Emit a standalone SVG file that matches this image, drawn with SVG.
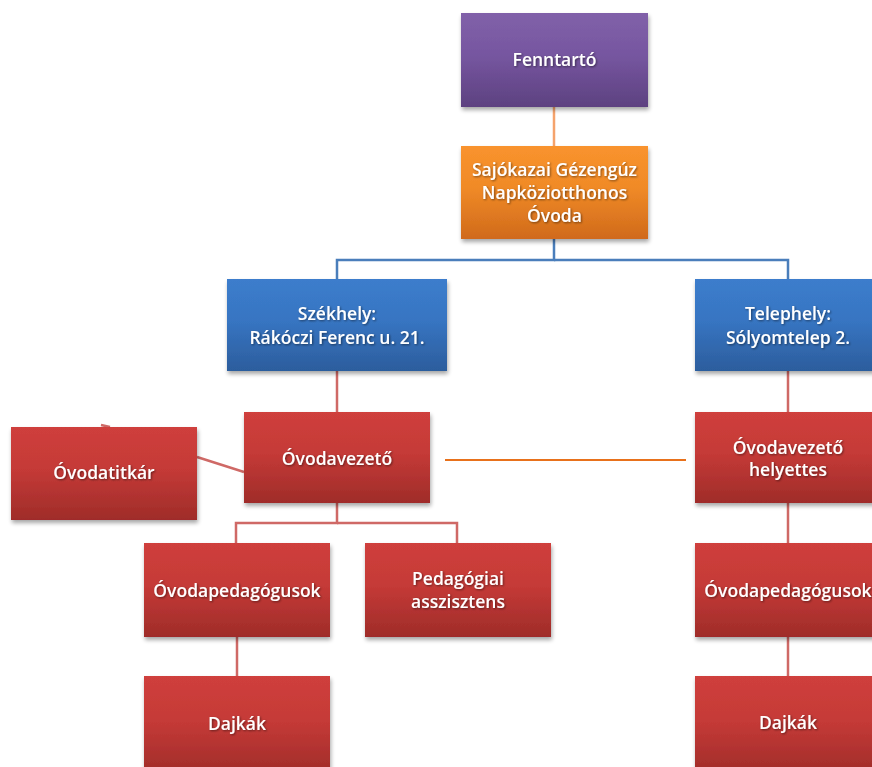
<svg xmlns="http://www.w3.org/2000/svg" width="872" height="767" viewBox="0 0 872 767">
<defs>
<linearGradient id="gPurple" x1="0" y1="0" x2="0" y2="1"><stop offset="0" stop-color="#8161a9"/><stop offset="0.45" stop-color="#7656a0"/><stop offset="1" stop-color="#5d4180"/></linearGradient>
<linearGradient id="gOrange" x1="0" y1="0" x2="0" y2="1"><stop offset="0" stop-color="#f9932e"/><stop offset="0.45" stop-color="#f08a27"/><stop offset="1" stop-color="#d06a1b"/></linearGradient>
<linearGradient id="gBlue" x1="0" y1="0" x2="0" y2="1"><stop offset="0" stop-color="#3c7dcc"/><stop offset="0.45" stop-color="#3775c2"/><stop offset="1" stop-color="#2c5d9d"/></linearGradient>
<linearGradient id="gRed" x1="0" y1="0" x2="0" y2="1"><stop offset="0" stop-color="#cf3f3c"/><stop offset="0.45" stop-color="#c53a37"/><stop offset="1" stop-color="#9f2c29"/></linearGradient>
<filter id="sh" x="-10%" y="-10%" width="125%" height="130%"><feGaussianBlur in="SourceAlpha" stdDeviation="2"/><feOffset dx="1" dy="3"/><feComponentTransfer><feFuncA type="linear" slope="0.35"/></feComponentTransfer><feMerge><feMergeNode/><feMergeNode in="SourceGraphic"/></feMerge></filter>
<filter id="tsh" x="-5%" y="-20%" width="110%" height="150%"><feGaussianBlur in="SourceAlpha" stdDeviation="0.8"/><feOffset dx="0.5" dy="1"/><feComponentTransfer><feFuncA type="linear" slope="0.5"/></feComponentTransfer><feMerge><feMergeNode/><feMergeNode in="SourceGraphic"/></feMerge></filter>
</defs>
<style>
text{font-family:"Open Sans","Liberation Sans",sans-serif;font-size:17.5px;font-weight:600;fill:#ffffff;text-anchor:middle;dominant-baseline:central;filter:url(#tsh)}
.c{fill:none;stroke-width:2.5}
.cb{stroke:#4a7ebb}
.cr{stroke:#cf6966}
.co{stroke:#f5a36c}
</style>
<g id="connectors">
<line class="c co" x1="554" y1="107" x2="554" y2="146"/>
<polyline class="c cb" points="554,239 554,260 337,260 337,279"/>
<polyline class="c cb" points="554,260 788,260 788,279"/>
<line class="c cr" x1="337" y1="371" x2="337" y2="412"/>
<line class="c cr" x1="788" y1="371" x2="788" y2="412"/>
<line class="c cr" x1="197" y1="457" x2="244" y2="472"/>
<line class="c cr" x1="101" y1="425" x2="110" y2="427"/>
<polyline class="c cr" points="337,503 337,523 236,523 236,543"/>
<polyline class="c cr" points="337,523 457,523 457,543"/>
<line class="c cr" x1="237" y1="637" x2="237" y2="676"/>
<line class="c cr" x1="788" y1="503" x2="788" y2="543"/>
<line class="c cr" x1="788" y1="637" x2="788" y2="676"/>
<line x1="445" y1="460" x2="686" y2="460" stroke="#e8711b" stroke-width="2"/>
<rect x="420" y="459" width="2" height="2" fill="#000"/>
</g>
<g id="fenntarto"><rect x="461" y="13" width="187" height="94" fill="url(#gPurple)" filter="url(#sh)"/><text x="554.5" y="59">Fenntartó</text></g>
<g id="ovoda"><rect x="461" y="146" width="187" height="93" fill="url(#gOrange)" filter="url(#sh)"/><text x="554.5" y="169">Sajókazai Gézengúz</text><text x="554.5" y="192">Napköziotthonos</text><text x="554.5" y="215">Óvoda</text></g>
<g id="szekhely"><rect x="227" y="279" width="220" height="92" fill="url(#gBlue)" filter="url(#sh)"/><text x="337" y="313">Székhely:</text><text x="337" y="337">Rákóczi Ferenc u. 21.</text></g>
<g id="telephely"><rect x="695" y="279" width="187" height="92" fill="url(#gBlue)" filter="url(#sh)"/><text x="788" y="313">Telephely:</text><text x="788" y="337">Sólyomtelep 2.</text></g>
<g id="ovodavezeto"><rect x="244" y="412" width="186" height="91" fill="url(#gRed)" filter="url(#sh)"/><text x="337" y="458">Óvodavezető</text></g>
<g id="ovodatitkar"><rect x="11" y="427" width="186" height="93" fill="url(#gRed)" filter="url(#sh)"/><text x="104" y="472">Óvodatitkár</text></g>
<g id="helyettes"><rect x="695" y="412" width="187" height="91" fill="url(#gRed)" filter="url(#sh)"/><text x="788" y="447">Óvodavezető</text><text x="788" y="469">helyettes</text></g>
<g id="pedagogusok1"><rect x="144" y="543" width="186" height="94" fill="url(#gRed)" filter="url(#sh)"/><text x="237" y="590">Óvodapedagógusok</text></g>
<g id="asszisztens"><rect x="365" y="543" width="186" height="94" fill="url(#gRed)" filter="url(#sh)"/><text x="458" y="578">Pedagógiai</text><text x="458" y="601">asszisztens</text></g>
<g id="dajkak1"><rect x="144" y="676" width="186" height="100" fill="url(#gRed)" filter="url(#sh)"/><text x="237" y="723">Dajkák</text></g>
<g id="pedagogusok2"><rect x="695" y="543" width="187" height="94" fill="url(#gRed)" filter="url(#sh)"/><text x="788" y="590">Óvodapedagógusok</text></g>
<g id="dajkak2"><rect x="695" y="676" width="187" height="100" fill="url(#gRed)" filter="url(#sh)"/><text x="788" y="722">Dajkák</text></g>
</svg>
